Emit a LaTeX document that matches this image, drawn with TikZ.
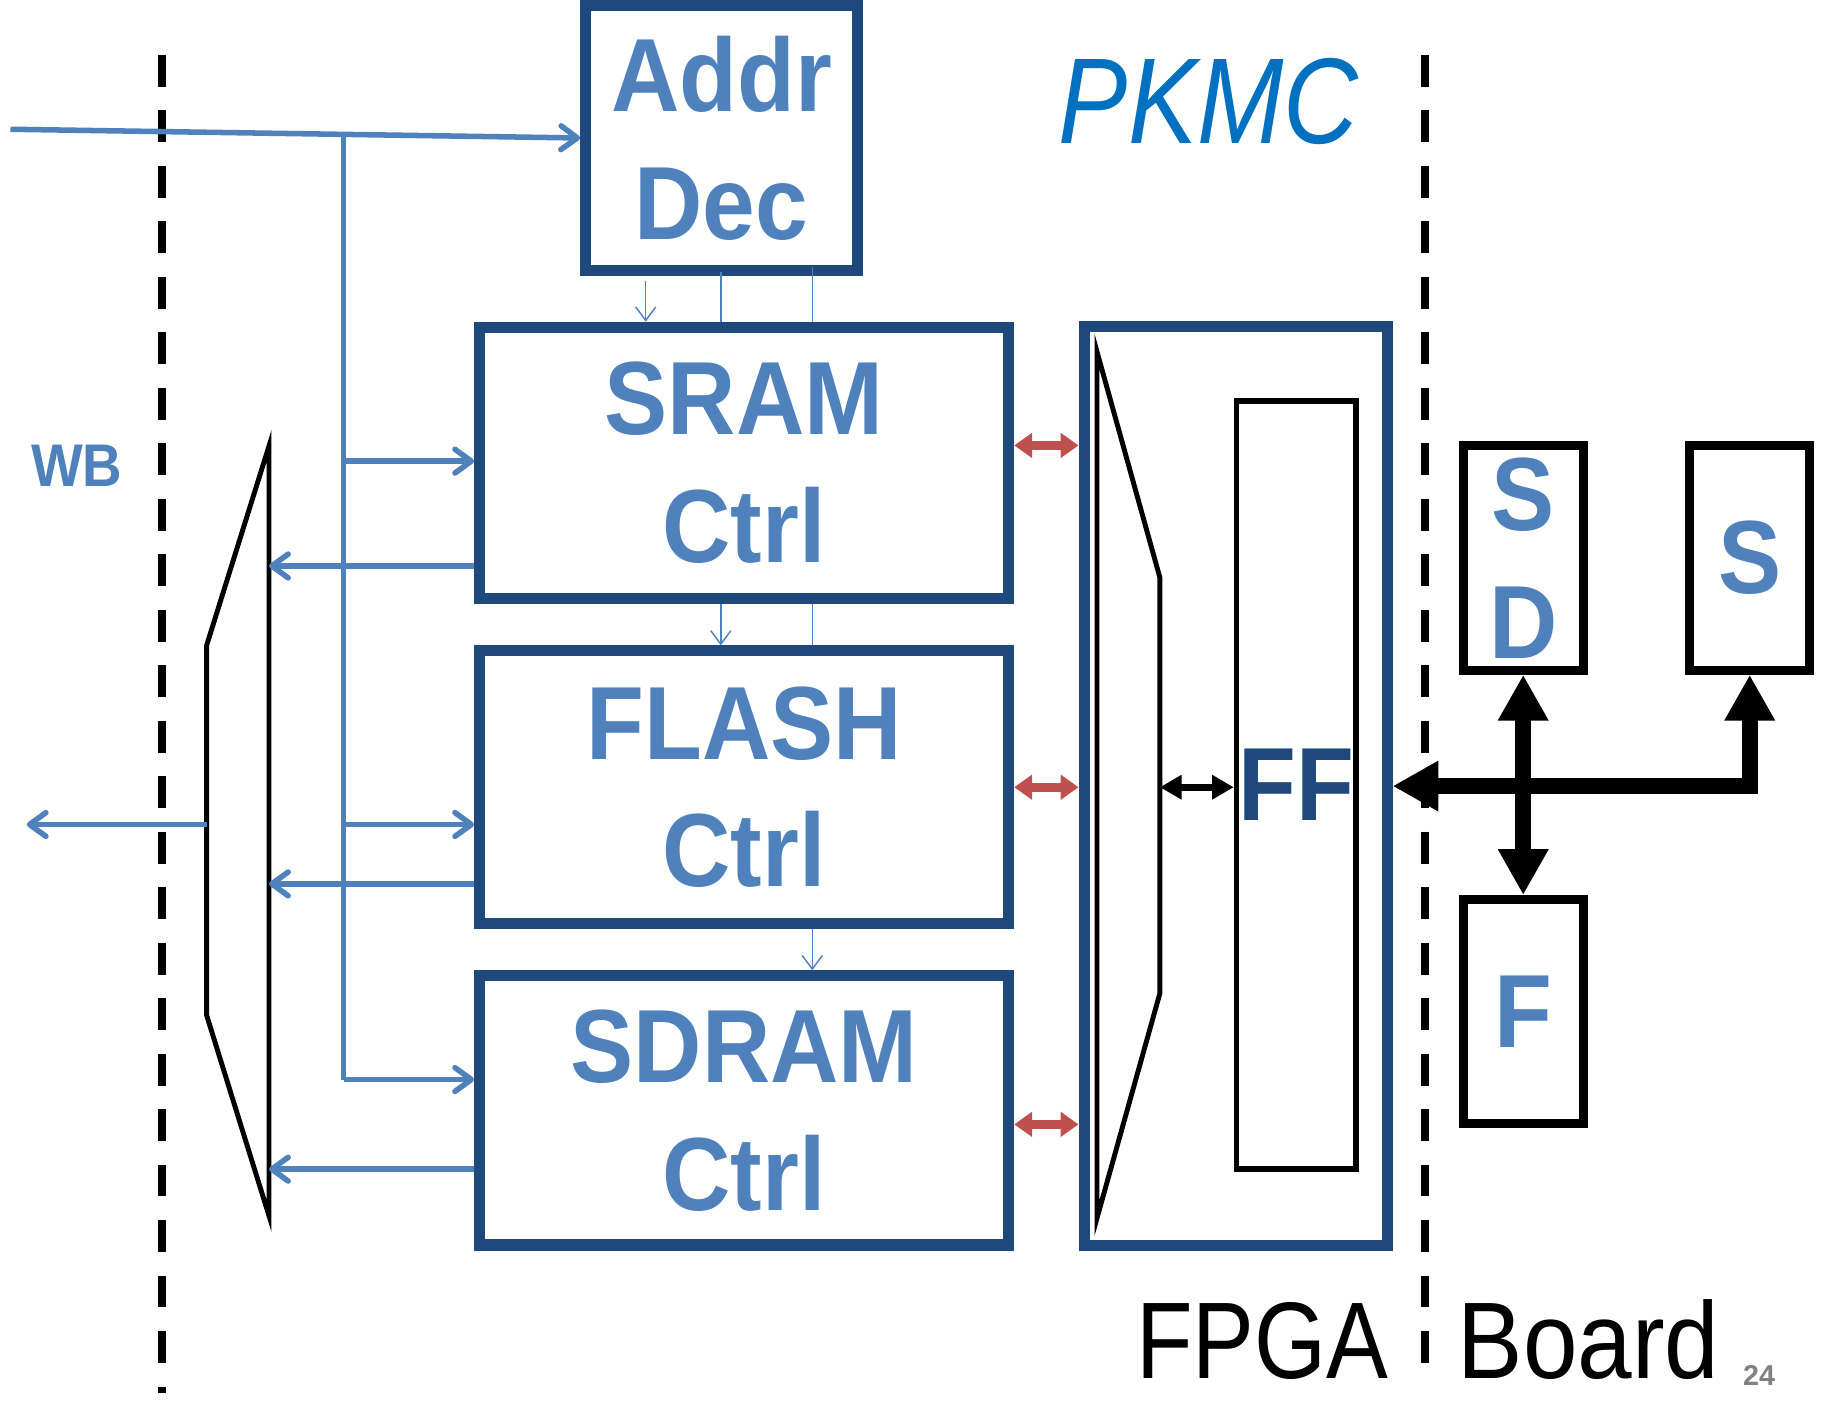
\documentclass[tikz,border=0pt]{standalone}
\usepackage{fontspec}
\setmainfont{Liberation Sans}
\newfontfamily\boxfont{Liberation Sans}[FakeStretch=0.91]
\newfontfamily\brdfont{Liberation Sans}[FakeStretch=0.85]
\newfontfamily\brdfontb{Liberation Sans}[FakeStretch=0.9]
\newfontfamily\pkfont{Liberation Sans}[FakeStretch=0.85]
\usetikzlibrary{arrows.meta}
\definecolor{navy}{RGB}{31,73,125}
\definecolor{lblue}{RGB}{79,129,189}
\definecolor{pkblue}{RGB}{0,112,192}
\definecolor{rdc}{RGB}{192,80,77}

\begin{document}
\begin{tikzpicture}[x=0.01cm,y=-0.01cm,>={Straight Barb[length=4pt,width=5.8pt,round]},
 blk/.style={draw=navy,line width=2.7pt,text=lblue,align=center,inner sep=0pt,
  font=\boxfont\bfseries\fontsize{25.4}{31.2}\selectfont},
 chip/.style={draw,line width=2.2pt,text=lblue,align=center,inner sep=0pt,
  minimum width=1.03cm,minimum height=1.93cm,font=\boxfont\bfseries\fontsize{25.4}{31.2}\selectfont},
 w/.style={draw=lblue,line width=1.35pt},
 tw/.style={draw=lblue,line width=0.35pt},
 twa/.style={tw,-{Straight Barb[length=3.3pt,width=4.9pt]}},
 rd/.style={draw=rdc,line width=2.3pt,{Triangle[length=4.4pt,width=5.9pt]}-{Triangle[length=4.4pt,width=5.9pt]}},
 bus/.style={line width=3.8pt,{Triangle[length=11.2pt,width=11.6pt]}-{Triangle[length=11.2pt,width=11.6pt]}},
 mx/.style={line width=1.2pt},
 sep/.style={line width=1.8pt,dash pattern=on 7.8pt off 5.75pt}]
\useasboundingbox (0,0) rectangle (1568,1206);
\node[blk,minimum width=2.33cm,minimum height=2.28cm] (addr) at (619.5,118.5) {Addr\\Dec};
\node[blk,minimum width=4.54cm,minimum height=2.33cm] (sram) at (639,397.5) {SRAM\\Ctrl};
\node[blk,minimum width=4.54cm,minimum height=2.34cm] (flash) at (639,676) {FLASH\\Ctrl};
\node[blk,minimum width=4.54cm,minimum height=2.31cm] (sdram) at (639,953.5) {SDRAM\\Ctrl};
\node[blk,minimum width=2.6cm,minimum height=7.88cm] (fpga) at (1061,675) {};
\node[draw,line width=1.3pt,minimum width=1.025cm,minimum height=6.59cm,text=navy,inner sep=0pt,
 font=\boxfont\bfseries\fontsize{25.4}{31.2}\selectfont] (ff) at (1113,674) {FF};
\node[chip] (sdbox) at (1308,479) {S\\D};
\node[chip] (sbox) at (1502.5,479) {S};
\node[chip,minimum height=1.925cm] (fbox) at (1308,868.75) {F};
\node[text=lblue,font=\boxfont\bfseries\fontsize{14.7}{16}\selectfont] (wb) at (66,400) {WB};
\node[text=pkblue,font=\pkfont\itshape\fontsize{29.8}{32}\selectfont] (pkmc) at (1038,87) {PKMC};
\node[anchor=base east,inner sep=0pt,font=\brdfont\fontsize{26.6}{30}\selectfont] (fpgalab) at (1193,1183.5) {FPGA};
\node[anchor=base west,inner sep=0pt,font=\brdfontb\fontsize{26.6}{30}\selectfont] (brdlab) at (1251,1183.5) {Board};
\node[anchor=base,inner sep=0pt,text=gray,font=\bfseries\fontsize{7}{8}\selectfont] (pg) at (1510.5,1189.5) {24};
\draw[sep] (139,47) -- (139,1196);
\draw[sep] (1223.5,47) -- (1223.5,1172);
\coordinate (la) at (231,383);
\coordinate (lb) at (177.5,554);
\coordinate (lc) at (177.5,872);
\coordinate (ld) at (231,1044);
\draw[mx] (la) -- (lb) -- (lc) -- (ld) -- cycle;
\coordinate (ma) at (942,302);
\coordinate (mb) at (996,496);
\coordinate (mc) at (996,853);
\coordinate (md) at (942,1046);
\draw[mx] (ma) -- (mb) -- (mc) -- (md) -- cycle;
\coordinate (in) at (9,111);
\coordinate (tap) at (295,114);
\coordinate (b1) at (295,396);
\coordinate (b2) at (295,708);
\coordinate (b3) at (295,927);
\coordinate (r1) at (231,486);
\coordinate (r2) at (231,759);
\coordinate (r3) at (231,1004);
\coordinate (mo) at (177.5,708);
\coordinate (out) at (23,708);
\draw[w,->] (in) -- (addr.west);
\draw[w] (tap) -- (b3);
\draw[w,->] (b1) -- (b1 -| sram.west);
\draw[w,->] (b2) -- (b2 -| flash.west);
\draw[w,->] (b3) -- (b3 -| sdram.west);
\draw[w,->] (r1 -| sram.west) -- (r1);
\draw[w,->] (r2 -| flash.west) -- (r2);
\draw[w,->] (r3 -| sdram.west) -- (r3);
\draw[w,->] (mo) -- (out);
\coordinate (ca) at (554.5,241);
\coordinate (cb) at (619,233.6);
\coordinate (cc) at (697.5,229);
\draw[twa] (ca) -- (ca |- sram.north);
\draw[tw] (cb) -- (cb |- sram.north);
\draw[tw] (cc) -- (cc |- sram.north);
\draw[twa] (sram.south -| cb) -- (cb |- flash.north);
\draw[tw] (sram.south -| cc) -- (cc |- flash.north);
\draw[twa] (flash.south -| cc) -- (cc |- sdram.north);
\coordinate (p1) at (0,382.5);
\coordinate (p2) at (0,676);
\coordinate (p3) at (0,965.5);
\draw[rd] (p1 -| sram.east) -- (p1 -| fpga.west);
\draw[rd] (p2 -| flash.east) -- (p2 -| fpga.west);
\draw[rd] (p3 -| sdram.east) -- (p3 -| fpga.west);
\draw[line width=1.6pt,{Triangle[length=5.3pt,width=5.7pt]}-{Triangle[length=5.3pt,width=5.7pt]}] (p2 -| mb) -- (p2 -| ff.west);
\draw[bus] (sbox.south) |- (fpga.east);
\draw[bus] (sdbox.south) -- (fbox.north);
\end{tikzpicture}
\end{document}
